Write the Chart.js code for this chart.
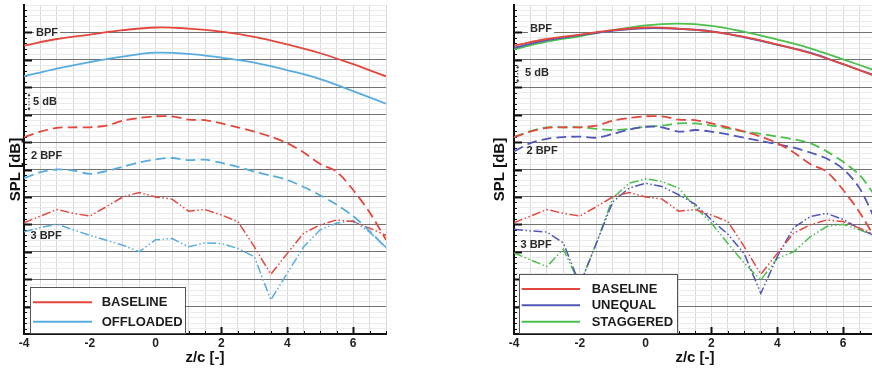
<!DOCTYPE html>
<html>
<head>
<meta charset="utf-8">
<script src="https://cdn.jsdelivr.net/npm/chart.js@4.4.0/dist/chart.umd.min.js"></script>
<style>
html, body { margin: 0; padding: 0; background: #fff; overflow: hidden; }
body { width: 872px; height: 371px; position: relative; }
.panel { position: absolute; top: 0; width: 400px; height: 371px; }
#leftPanel { left: 0; }
#rightPanel { left: 490px; }
</style>
</head>
<body>
<div class="panel" id="leftPanel"><canvas id="leftChart"></canvas></div>
<div class="panel" id="rightPanel"><canvas id="rightChart"></canvas></div>
<script>
const FONT = "'Liberation Sans', Arial, Helvetica, sans-serif";

// Spanwise stations z/c
const zWhole = [-4, -3, -2, -1, 0, 1, 2, 3, 4, 5, 6, 7];
const zHalf = [-4, -3.5, -3, -2.5, -2, -1.5, -1, -0.5, 0, 0.5, 1, 1.5, 2, 2.5, 3, 3.5, 4, 4.5, 5, 5.5, 6, 6.5, 7];
const xTickLabels = [-4, -2, 0, 2, 4, 6];

// SPL levels (relative dB, axis runs 0..60, 5 dB per major line)
// BPF - solid
const baselineBpf   = [52.6, 53.8, 54.6, 55.4, 55.9, 55.7, 55.15, 54.2, 52.8, 51.2, 49.2, 47.0];
const offloadedBpf  = [47.0, 48.4, 49.6, 50.6, 51.3, 51.1, 50.4, 49.5, 48.1, 46.5, 44.3, 42.0];
const unequalBpf    = [52.2, 53.6, 54.5, 55.3, 55.75, 55.65, 55.2, 54.1, 52.75, 51.3, 49.2, 47.1];
const staggeredBpf  = [51.9, 53.3, 54.3, 55.4, 56.3, 56.6, 56.2, 55.1, 53.7, 52.1, 50.1, 48.0];

// 2 BPF - dashed
const baseline2Bpf  = [35.9, 36.9, 37.6, 37.7, 37.7, 38.0, 38.9, 39.4, 39.7, 39.7, 39.1, 39.0, 38.4, 37.7, 36.9, 36.0, 34.8, 33.1, 31.0, 29.6, 26.3, 22.2, 17.2];
const offloaded2Bpf = [28.4, 29.5, 30.0, 29.8, 29.2, 29.7, 30.5, 31.3, 31.85, 32.1, 31.7, 31.8, 31.2, 30.5, 29.6, 28.9, 28.1, 26.8, 25.3, 23.6, 21.5, 18.8, 15.7];
const unequal2Bpf   = [33.3, 34.8, 35.6, 35.9, 36.0, 35.8, 36.5, 37.3, 37.8, 37.7, 36.9, 37.2, 36.9, 36.4, 35.8, 35.2, 34.6, 34.0, 33.1, 32.0, 30.1, 26.6, 20.5];
const staggered2Bpf = [35.9, 37.0, 37.7, 37.7, 37.7, 37.4, 37.2, 37.4, 37.8, 38.0, 38.4, 38.4, 38.0, 37.5, 36.9, 36.5, 36.0, 35.5, 34.8, 33.3, 31.4, 29.0, 25.0];

// 3 BPF - dash-dot-dot
const baseline3Bpf  = [20.3, 21.5, 22.7, 22.0, 21.5, 23.2, 25.0, 25.8, 25.0, 24.6, 22.4, 22.7, 21.7, 20.5, 15.9, 10.9, 14.7, 18.4, 19.9, 20.8, 20.5, 19.3, 18.0];
const offloaded3Bpf = [18.65, 19.4, 20.05, 19.0, 18.0, 17.1, 16.2, 15.0, 17.2, 17.4, 15.9, 16.6, 16.5, 15.6, 14.1, 6.2, 11.1, 15.9, 19.0, 20.2, 20.7, 18.6, 15.8];
const unequal3Bpf   = [19.1, 18.8, 18.6, 16.6, 9.0, 16.5, 24.1, 26.6, 27.5, 26.9, 25.4, 23.7, 20.8, 18.2, 14.6, 7.4, 14.1, 19.4, 21.4, 22.0, 20.9, 19.2, 17.8];
const staggered3Bpf = [14.8, 13.5, 12.3, 15.5, 9.0, 16.5, 24.8, 27.5, 28.3, 27.8, 26.6, 23.2, 20.2, 16.5, 12.9, 9.85, 13.8, 15.0, 17.7, 19.6, 20.0, 19.0, 17.8];

const leftNames = ['BASELINE', 'OFFLOADED'];
const rightNames = ['BASELINE', 'UNEQUAL', 'STAGGERED'];

const RED = '#e4473d';
const LIGHT_BLUE = '#58ace0';
const PURPLE = '#5057b8';
const GREEN = '#4dbf4d';

const STYLES = {
    bpf:  { borderWidth: 1.8, tension: 0.4, borderDash: [] },
    bpf2: { borderWidth: 1.8, tension: 0.3, borderDash: [10, 5] },
    bpf3: { borderWidth: 1.5, tension: 0, borderDash: [9, 2.5, 1.5, 2.5, 1.5, 2.5] }
};

function series(xs, ys, color, style) {
    return Object.assign({
        data: xs.map((x, i) => ({ x: x, y: ys[i] })),
        borderColor: color,
        backgroundColor: color,
        pointRadius: 0,
        fill: false
    }, STYLES[style]);
}

// Inward tick marks, harmonic labels, 5 dB marker and the boxed legend
const panelNotes = {
    id: 'panelNotes',
    beforeDatasetsDraw(chart) {
        const ctx = chart.ctx;
        const area = chart.chartArea;
        const xs = chart.scales.x;
        const ys = chart.scales.y;
        ctx.save();
        ctx.strokeStyle = '#111';
        for (let v = 1; v < 60; v++) {
            const major = v % 5 === 0;
            const y = Math.round(ys.getPixelForValue(v)) + 0.5;
            ctx.lineWidth = major ? 2 : 1;
            ctx.beginPath();
            ctx.moveTo(area.left, y);
            ctx.lineTo(area.left + (major ? 8 : 3), y);
            ctx.stroke();
        }
        for (let v = -3.5; v <= 7; v += 0.5) {
            const major = v % 2 === 0;
            const x = Math.round(xs.getPixelForValue(v)) + 0.5;
            ctx.lineWidth = major ? 2 : 1;
            ctx.beginPath();
            ctx.moveTo(x, area.bottom);
            ctx.lineTo(x, area.bottom - (major ? 7 : 3));
            ctx.stroke();
        }
        ctx.restore();
    },
    afterDatasetsDraw(chart, args, opts) {
        const ctx = chart.ctx;
        ctx.save();

        // harmonic labels
        ctx.font = 'bold 11px ' + FONT;
        ctx.textBaseline = 'middle';
        ctx.textAlign = 'left';
        opts.labels.forEach(l => {
            if (l.bg) {
                const w = ctx.measureText(l.text).width;
                ctx.fillStyle = '#fff';
                ctx.fillRect(l.x - 2, l.y - 5, w + 4, 10);
            }
            ctx.fillStyle = '#2a2a2a';
            ctx.fillText(l.text, l.x, l.y);
        });

        // 5 dB marker
        const a = opts.arrow;
        ctx.strokeStyle = '#444';
        ctx.fillStyle = '#444';
        ctx.lineWidth = 1;
        ctx.setLineDash([1.5, 1.5]);
        ctx.beginPath();
        ctx.moveTo(a.x, a.y1 + 2);
        ctx.lineTo(a.x, a.y2 - 2);
        ctx.stroke();
        ctx.setLineDash([]);
        [[a.y1, 1], [a.y2, -1]].forEach(([y, d]) => {
            ctx.beginPath();
            ctx.moveTo(a.x, y);
            ctx.lineTo(a.x - 1.5, y + 3 * d);
            ctx.lineTo(a.x + 1.5, y + 3 * d);
            ctx.closePath();
            ctx.fill();
        });

        // legend box
        const lg = opts.legend;
        ctx.fillStyle = '#fff';
        ctx.fillRect(lg.x1, lg.y1, lg.x2 - lg.x1, lg.y2 - lg.y1);
        ctx.strokeStyle = '#555';
        ctx.lineWidth = 1;
        ctx.strokeRect(lg.x1 + 0.5, lg.y1 + 0.5, lg.x2 - lg.x1, lg.y2 - lg.y1);
        ctx.font = 'bold 13px ' + FONT;
        ctx.textBaseline = 'middle';
        lg.rows.forEach((y, i) => {
            ctx.strokeStyle = lg.colors[i];
            ctx.lineWidth = 2;
            ctx.beginPath();
            ctx.moveTo(lg.lineX1, y);
            ctx.lineTo(lg.lineX2, y);
            ctx.stroke();
            ctx.fillStyle = '#1c1c1c';
            ctx.fillText(lg.names[i], lg.textX, y + 0.5);
        });
        ctx.restore();
    }
};

function makeChart(canvasId, datasets, titlePad, notes) {
    const ctx = document.getElementById(canvasId).getContext('2d');
    return new Chart(ctx, {
        type: 'line',
        data: { datasets: datasets },
        options: {
            responsive: true,
            maintainAspectRatio: false,
            animation: false,
            layout: { padding: { top: 5, right: 14, left: 0, bottom: 0 } },
            plugins: {
                legend: { display: false },
                tooltip: { enabled: false },
                panelNotes: notes
            },
            scales: {
                x: {
                    type: 'linear',
                    min: -4,
                    max: 7,
                    afterFit: s => { s.height = 37; },
                    afterBuildTicks: s => {
                        s.ticks = zHalf.map(v => ({ value: v }));
                    },
                    ticks: {
                        autoSkip: false,
                        maxRotation: 0,
                        padding: 2,
                        color: '#222',
                        font: { family: FONT, size: 12, weight: 'bold' },
                        callback: v => xTickLabels.includes(v) ? String(v) : ''
                    },
                    grid: {
                        drawTicks: false,
                        lineWidth: 1,
                        color: c => c.tick && c.tick.value === -4 ? 'rgba(0,0,0,0)' : '#d9d9d9'
                    },
                    border: { color: '#111', width: 2 },
                    title: {
                        display: true,
                        text: 'z/c [-]',
                        color: '#111',
                        font: { family: FONT, size: 15, weight: 'bold' },
                        padding: { top: 0, bottom: 4.3 }
                    }
                },
                y: {
                    type: 'linear',
                    min: 0,
                    max: 60,
                    afterFit: s => { s.width = 24; },
                    afterBuildTicks: s => {
                        const t = [];
                        for (let v = 0; v <= 60; v++) t.push({ value: v });
                        s.ticks = t;
                    },
                    ticks: { display: false },
                    grid: {
                        drawTicks: false,
                        lineWidth: 1,
                        color: c => {
                            const v = c.tick ? c.tick.value : 0;
                            if (v === 0) return 'rgba(0,0,0,0)';
                            if (v % 5 === 0 && v < 60) return '#727272';
                            return '#ebebeb';
                        }
                    },
                    border: { color: '#111', width: 2 },
                    title: {
                        display: true,
                        text: 'SPL [dB]',
                        color: '#111',
                        font: { family: FONT, size: 15, weight: 'bold' },
                        padding: { top: titlePad, bottom: 0 }
                    }
                }
            }
        },
        plugins: [panelNotes]
    });
}

makeChart('leftChart', [
    series(zWhole, baselineBpf, RED, 'bpf'),
    series(zWhole, offloadedBpf, LIGHT_BLUE, 'bpf'),
    series(zHalf, baseline2Bpf, RED, 'bpf2'),
    series(zHalf, offloaded2Bpf, LIGHT_BLUE, 'bpf2'),
    series(zHalf, baseline3Bpf, RED, 'bpf3'),
    series(zHalf, offloaded3Bpf, LIGHT_BLUE, 'bpf3')
], 7, {
    labels: [
        { text: 'BPF', x: 36, y: 33, bg: true },
        { text: '5 dB', x: 33, y: 102 },
        { text: '2 BPF', x: 31, y: 156 },
        { text: '3 BPF', x: 30.5, y: 236 }
    ],
    arrow: { x: 29, y1: 93, y2: 111 },
    legend: {
        x1: 30, y1: 287, x2: 185, y2: 333,
        lineX1: 33, lineX2: 92, textX: 101.7,
        rows: [302.3, 321.7],
        colors: [RED, LIGHT_BLUE],
        names: leftNames
    }
});

makeChart('rightChart', [
    series(zWhole, baselineBpf, RED, 'bpf'),
    series(zWhole, unequalBpf, PURPLE, 'bpf'),
    series(zWhole, staggeredBpf, GREEN, 'bpf'),
    series(zHalf, baseline2Bpf, RED, 'bpf2'),
    series(zHalf, unequal2Bpf, PURPLE, 'bpf2'),
    series(zHalf, staggered2Bpf, GREEN, 'bpf2'),
    series(zHalf, baseline3Bpf, RED, 'bpf3'),
    series(zHalf, unequal3Bpf, PURPLE, 'bpf3'),
    series(zHalf, staggered3Bpf, GREEN, 'bpf3')
], 1, {
    labels: [
        { text: 'BPF', x: 40, y: 28.5, bg: true },
        { text: '5 dB', x: 35, y: 73 },
        { text: '2 BPF', x: 36.5, y: 151 },
        { text: '3 BPF', x: 30.5, y: 245 }
    ],
    arrow: { x: 27.7, y1: 65, y2: 83 },
    legend: {
        x1: 29, y1: 274, x2: 187, y2: 333,
        lineX1: 31.7, lineX2: 90, textX: 101.7,
        rows: [289, 305.3, 321.7],
        colors: [RED, PURPLE, GREEN],
        names: rightNames
    }
});
</script>
</body>
</html>
